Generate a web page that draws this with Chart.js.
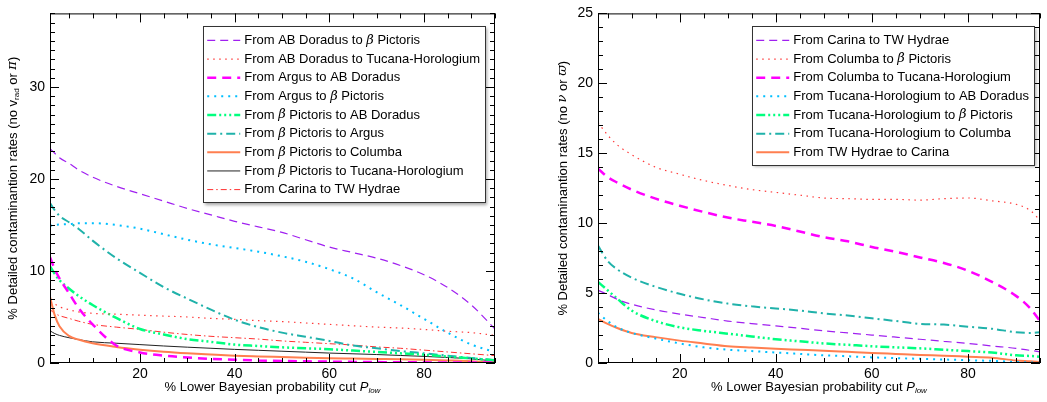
<!DOCTYPE html>
<html>
<head>
<meta charset="utf-8">
<script src="https://cdn.jsdelivr.net/npm/chart.js@4.4.0/dist/chart.umd.min.js"></script>
<style>
  html, body { margin: 0; padding: 0; background: #fff; }
  #wrap { position: relative; width: 1047px; height: 402px; }
  #left { position: absolute; left: 0; top: 0; }
  #right { position: absolute; left: 520px; top: 0; }
</style>
</head>
<body>
<div id="wrap">
  <canvas id="left" width="520" height="402"></canvas>
  <canvas id="right" width="527" height="402"></canvas>
</div>
<script>
// ---- left panel data (no v_rad or parallax) ----
const leftX = [1, 2, 3, 5, 7, 10, 15, 20, 25, 30, 35, 40, 45, 50, 55, 60, 65, 70, 75, 80, 85, 90, 95];
const leftNames = [
  'From AB Doradus to β Pictoris',
  'From AB Doradus to Tucana-Horologium',
  'From Argus to AB Doradus',
  'From Argus to β Pictoris',
  'From β Pictoris to AB Doradus',
  'From β Pictoris to Argus',
  'From β Pictoris to Columba',
  'From β Pictoris to Tucana-Horologium',
  'From Carina to TW Hydrae'
];
const abdorToBpic = [23.3, 22.8, 22.3, 21.7, 21.0, 20.2, 19.2, 18.4, 17.6, 16.8, 16.1, 15.4, 14.8, 14.2, 13.4, 12.6, 12.0, 11.4, 10.6, 9.6, 8.2, 6.3, 3.7];
const abdorToTuchor = [6.6, 6.4, 6.1, 5.8, 5.55, 5.4, 5.3, 5.2, 5.1, 5.0, 4.85, 4.75, 4.6, 4.5, 4.35, 4.2, 4.05, 3.9, 3.8, 3.65, 3.45, 3.3, 3.0];
const argusToAbdor = [11.5, 10.2, 9.2, 7.6, 6.0, 4.2, 1.9, 1.15, 0.8, 0.6, 0.45, 0.35, 0.28, 0.22, 0.18, 0.15, 0.12, 0.1, 0.08, 0.07, 0.06, 0.05, 0.05];
const argusToBpic = [14.9, 15.0, 15.05, 15.1, 15.2, 15.2, 15.0, 14.6, 14.0, 13.4, 12.9, 12.5, 12.1, 11.6, 11.0, 10.2, 9.2, 7.7, 6.3, 4.8, 3.3, 2.0, 1.2];
const bpicToAbdor = [10.5, 9.7, 9.0, 8.1, 7.3, 6.3, 4.9, 3.7, 3.1, 2.6, 2.3, 2.0, 1.85, 1.7, 1.6, 1.5, 1.35, 1.2, 1.05, 0.9, 0.7, 0.5, 0.3];
const bpicToArgus = [17.4, 16.6, 16.0, 15.3, 14.6, 13.3, 11.4, 9.8, 8.25, 7.0, 5.8, 4.7, 3.9, 3.3, 2.85, 2.4, 1.9, 1.6, 1.3, 1.05, 0.8, 0.55, 0.3];
const bpicToCol = [7.2, 5.2, 4.0, 2.95, 2.55, 2.15, 1.75, 1.45, 1.22, 1.05, 0.92, 0.8, 0.72, 0.65, 0.58, 0.52, 0.48, 0.44, 0.4, 0.35, 0.28, 0.2, 0.07];
const bpicToTuchor = [3.5, 3.2, 3.0, 2.75, 2.55, 2.3, 2.15, 2.0, 1.85, 1.72, 1.6, 1.48, 1.38, 1.28, 1.18, 1.08, 1.0, 0.92, 0.82, 0.72, 0.6, 0.45, 0.2];
const carToTwa = [5.8, 5.4, 5.15, 4.85, 4.55, 4.2, 3.9, 3.65, 3.35, 3.1, 2.9, 2.75, 2.6, 2.4, 2.25, 2.1, 1.95, 1.75, 1.6, 1.4, 1.2, 1.0, 0.8];
const leftSeries = [abdorToBpic, abdorToTuchor, argusToAbdor, argusToBpic, bpicToAbdor, bpicToArgus, bpicToCol, bpicToTuchor, carToTwa];
const leftStyles = ['purpleDash', 'redDot', 'magentaDash', 'blueDot', 'greenDash3Dot', 'tealDashDot', 'coralSolid', 'blackSolid', 'redDashDot'];
const leftXTicks = [20, 40, 60, 80];
const leftYTicks = [0, 10, 20, 30];

// ---- right panel data (no nu or parallax) ----
const rightX = [3, 5, 7, 10, 15, 20, 25, 30, 35, 40, 45, 50, 55, 60, 65, 70, 75, 80, 85, 90, 93, 95];
const rightNames = [
  'From Carina to TW Hydrae',
  'From Columba to β Pictoris',
  'From Columba to Tucana-Horologium',
  'From Tucana-Horologium to AB Doradus',
  'From Tucana-Horologium to β Pictoris',
  'From Tucana-Horologium to Columba',
  'From TW Hydrae to Carina'
];
const carToTwaR = [5.2, 4.9, 4.55, 4.2, 3.8, 3.5, 3.25, 3.0, 2.82, 2.65, 2.48, 2.3, 2.15, 2.0, 1.85, 1.7, 1.55, 1.4, 1.22, 1.05, 0.9, 0.8];
const colToBpic = [17.2, 16.3, 15.6, 14.9, 14.0, 13.5, 13.05, 12.7, 12.4, 12.2, 12.0, 11.8, 11.75, 11.7, 11.7, 11.65, 11.75, 11.8, 11.6, 11.35, 10.9, 10.2];
const colToTuchor = [13.9, 13.3, 12.9, 12.4, 11.75, 11.25, 10.8, 10.4, 10.1, 9.8, 9.4, 9.0, 8.7, 8.3, 7.95, 7.55, 7.15, 6.6, 5.8, 4.8, 3.9, 3.0];
const tuchorToAbdor = [3.6, 3.0, 2.55, 2.15, 1.75, 1.4, 1.12, 0.95, 0.85, 0.75, 0.65, 0.55, 0.48, 0.4, 0.35, 0.3, 0.25, 0.2, 0.15, 0.08, 0.04, 0.02];
const tuchorToBpic = [5.8, 5.2, 4.6, 3.75, 3.0, 2.55, 2.3, 2.1, 1.9, 1.7, 1.55, 1.4, 1.3, 1.2, 1.12, 1.05, 0.95, 0.85, 0.75, 0.55, 0.5, 0.45];
const tuchorToCol = [8.4, 7.3, 6.7, 6.1, 5.45, 4.95, 4.55, 4.25, 4.05, 3.9, 3.75, 3.55, 3.4, 3.2, 3.0, 2.8, 2.75, 2.6, 2.45, 2.2, 2.15, 2.2];
const twaToCar = [3.15, 2.8, 2.5, 2.15, 1.85, 1.6, 1.4, 1.2, 1.1, 1.02, 0.95, 0.88, 0.8, 0.72, 0.65, 0.58, 0.52, 0.45, 0.38, 0.18, 0.12, 0.07];
const rightSeries = [carToTwaR, colToBpic, colToTuchor, tuchorToAbdor, tuchorToBpic, tuchorToCol, twaToCar];
const rightStyles = ['purpleDash', 'redDot', 'magentaDash', 'blueDot', 'greenDash3Dot', 'tealDashDot', 'coralSolid'];
const rightXTicks = [20, 40, 60, 80];
const rightYTicks = [0, 5, 10, 15, 20, 25];

const SANS = "'Liberation Sans', Arial, Helvetica, sans-serif";
const SERIF = "'DejaVu Serif', serif";

const styles = {
  purpleDash:    { color: '#a020f0', width: 1.2, dash: [8, 5] },
  redDot:        { color: '#ff3a3a', width: 1.2, dash: [1.5, 4.5] },
  magentaDash:   { color: '#ff00ff', width: 2.5, dash: [9, 6] },
  blueDot:       { color: '#00bfff', width: 2, dash: [2, 5] },
  greenDash3Dot: { color: '#00ff7f', width: 2.5, dash: [9, 3, 2, 3, 2, 3, 2, 3] },
  tealDashDot:   { color: '#20b2aa', width: 2, dash: [9, 4, 2, 4] },
  coralSolid:    { color: '#ff7f50', width: 2, dash: [] },
  blackSolid:    { color: '#222222', width: 1, dash: [] },
  redDashDot:    { color: '#ff3030', width: 1, dash: [6, 3, 1.5, 3] }
};

// text parts: n = normal, i = italic sans, g = greek italic, s = subscript, is = italic subscript
function richFont(kind, size) {
  if (kind === 'i') return 'italic ' + size + 'px ' + SANS;
  if (kind === 'g') return 'italic ' + size + 'px ' + SERIF;
  if (kind === 's') return Math.round(size * 0.65) + 'px ' + SANS;
  if (kind === 'is') return 'italic ' + Math.round(size * 0.65) + 'px ' + SANS;
  return size + 'px ' + SANS;
}
function richWidth(ctx, parts, size) {
  let w = 0;
  parts.forEach(p => { ctx.font = richFont(p[1], size); w += ctx.measureText(p[0]).width; });
  return w;
}
function drawRich(ctx, parts, x, y, size) {
  ctx.textBaseline = 'middle';
  ctx.textAlign = 'left';
  parts.forEach(p => {
    ctx.font = richFont(p[1], size);
    const dy = (p[1] === 's' || p[1] === 'is') ? size * 0.3 : 0;
    ctx.fillText(p[0], x, y + dy);
    x += ctx.measureText(p[0]).width;
  });
}
function splitGreek(text) {
  return text.split(/(β)/).filter(s => s).map(s => [s, s === 'β' ? 'g' : 'n']);
}

const decor = {
  id: 'decor',
  afterDatasetsDraw(chart, args, o) {
    const { ctx, chartArea: a, scales: { x, y } } = chart;
    ctx.save();
    ctx.strokeStyle = '#000';
    ctx.lineWidth = 1;
    ctx.setLineDash([]);
    ctx.strokeRect(a.left + 0.5, a.top + 0.5, a.width - 1, a.height - 1);
    ctx.beginPath();
    for (let v = Math.ceil(x.min / o.xMinor) * o.xMinor; v <= x.max; v += o.xMinor) {
      const px = Math.round(x.getPixelForValue(v)) + 0.5;
      const len = v % o.xMajor === 0 ? 9 : 5;
      ctx.moveTo(px, a.bottom); ctx.lineTo(px, a.bottom - len);
      ctx.moveTo(px, a.top); ctx.lineTo(px, a.top + len);
    }
    for (let v = Math.ceil(y.min / o.yMinor) * o.yMinor; v <= y.max; v += o.yMinor) {
      const py = Math.round(y.getPixelForValue(v)) + 0.5;
      const len = v % o.yMajor === 0 ? 9 : 5;
      ctx.moveTo(a.left, py); ctx.lineTo(a.left + len, py);
      ctx.moveTo(a.right, py); ctx.lineTo(a.right - len, py);
    }
    ctx.stroke();

    // axis titles
    ctx.fillStyle = '#000';
    const xt = [['% Lower Bayesian probability cut ', 'n'], ['P', 'i'], ['low', 'is']];
    const xw = richWidth(ctx, xt, 13);
    drawRich(ctx, xt, (a.left + a.right) / 2 - xw / 2, 387, 13);
    const yw = richWidth(ctx, o.yTitle, 13);
    ctx.translate(o.yTitleX, (a.top + a.bottom) / 2);
    ctx.rotate(-Math.PI / 2);
    drawRich(ctx, o.yTitle, -yw / 2, 0, 13);
    ctx.restore();

    // legend box
    ctx.save();
    const ds = chart.data.datasets;
    const rows = ds.map(d => splitGreek(d.label));
    let tw = 0;
    rows.forEach(r => { tw = Math.max(tw, richWidth(ctx, r, 13)); });
    const bw = 41 + tw + 5;
    const bh = 14 + (ds.length - 1) * 18.65 + 13;
    const bx = a.right - o.legendRight - bw;
    const by = a.top + 13;
    ctx.shadowColor = 'rgba(0,0,0,0.35)';
    ctx.shadowOffsetX = 2;
    ctx.shadowOffsetY = 2;
    ctx.shadowBlur = 3;
    ctx.fillStyle = '#fff';
    ctx.fillRect(bx, by, bw, bh);
    ctx.shadowColor = 'transparent';
    ctx.strokeStyle = '#333';
    ctx.lineWidth = 1;
    ctx.strokeRect(Math.round(bx) + 0.5, Math.round(by) + 0.5, Math.round(bw), Math.round(bh));
    ds.forEach((d, i) => {
      const ry = by + 14 + i * 18.65;
      ctx.beginPath();
      ctx.strokeStyle = d.borderColor;
      ctx.lineWidth = d.borderWidth;
      ctx.setLineDash(d.borderDash);
      ctx.moveTo(bx + 4, ry);
      ctx.lineTo(bx + 37, ry);
      ctx.stroke();
      ctx.fillStyle = '#000';
      drawRich(ctx, rows[i], bx + 41, ry, 13);
    });
    ctx.restore();
  }
};

function makeDatasets(xs, series, names, styleKeys) {
  return series.map((ys, i) => {
    const s = styles[styleKeys[i]];
    return {
      label: names[i],
      data: xs.map((x, j) => ({ x: x, y: ys[j] })),
      borderColor: s.color,
      borderWidth: s.width,
      borderDash: s.dash,
      pointRadius: 0,
      fill: false,
      cubicInterpolationMode: 'monotone',
      order: i
    };
  });
}

function makeChart(id, cfg) {
  return new Chart(document.getElementById(id), {
    type: 'line',
    data: { datasets: makeDatasets(cfg.xs, cfg.series, cfg.names, cfg.styleKeys) },
    options: {
      responsive: false,
      animation: false,
      layout: { padding: { top: 3, right: cfg.padRight, left: 0, bottom: 0 } },
      plugins: {
        legend: { display: false },
        tooltip: { enabled: false },
        decor: cfg.decor
      },
      scales: {
        x: {
          type: 'linear',
          min: cfg.xMin, max: cfg.xMax,
          grid: { display: false, drawTicks: false },
          border: { display: false },
          afterFit: s => { s.height = 39; },
          afterBuildTicks: s => { s.ticks = cfg.xTicks.map(v => ({ value: v })); },
          ticks: { color: '#000', font: { family: SANS, size: 14 }, padding: 3, maxRotation: 0 }
        },
        y: {
          type: 'linear',
          min: 0, max: cfg.yMax,
          grid: { display: false, drawTicks: false },
          border: { display: false },
          afterFit: s => { s.width = cfg.yWidth; },
          afterBuildTicks: s => { s.ticks = cfg.yTicks.map(v => ({ value: v })); },
          ticks: { color: '#000', font: { family: SANS, size: 14 }, padding: 5 }
        }
      }
    },
    plugins: [decor]
  });
}

makeChart('left', {
  xs: leftX, series: leftSeries, names: leftNames, styleKeys: leftStyles,
  xMin: 1, xMax: 95, yMax: 38, xTicks: leftXTicks, yTicks: leftYTicks,
  padRight: 25, yWidth: 50,
  decor: {
    xMinor: 5, xMajor: 20, yMinor: 1, yMajor: 10, legendRight: 10, yTitleX: 13,
    yTitle: [['% Detailed contaminantion rates (no v', 'n'], ['rad', 's'], [' or ', 'n'], ['π', 'g'], [')', 'n']]
  }
});

makeChart('right', {
  xs: rightX, series: rightSeries, names: rightNames, styleKeys: rightStyles,
  xMin: 3, xMax: 95, yMax: 25, xTicks: rightXTicks, yTicks: rightYTicks,
  padRight: 7, yWidth: 78,
  decor: {
    xMinor: 5, xMajor: 20, yMinor: 1, yMajor: 5, legendRight: 6, yTitleX: 43,
    yTitle: [['% Detailed contaminantion rates (no ', 'n'], ['ν', 'g'], [' or ', 'n'], ['ϖ', 'g'], [')', 'n']]
  }
});
</script>
</body>
</html>
